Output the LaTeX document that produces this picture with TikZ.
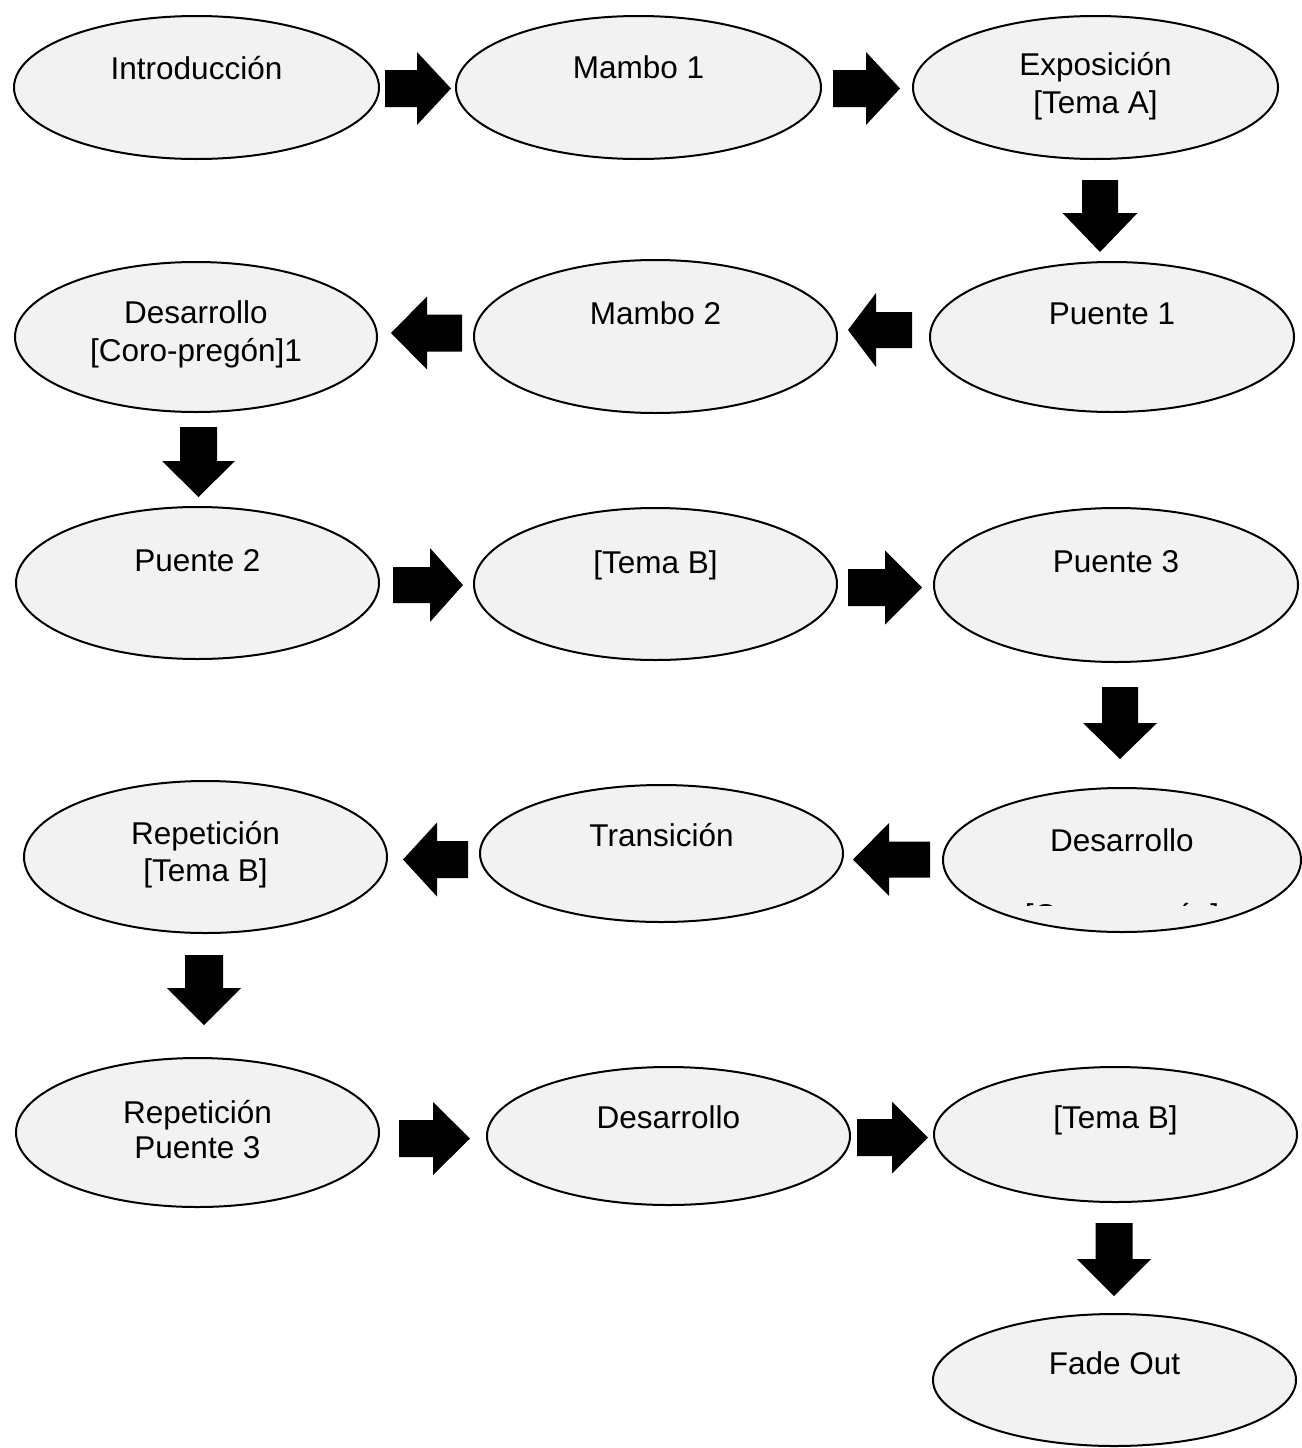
\documentclass[tikz,border=0pt]{standalone}
\usepackage{fontspec}
\setmainfont{Liberation Sans}
\usetikzlibrary{shapes.geometric,calc}
\definecolor{ovalfill}{HTML}{F2F2F2}
\newcommand{\blkarrow}[5]{%
  \coordinate (#1#2h) at ($(#2)!#5pt!(#1)$);
  \fill[barrow] ($(#1)!#3pt!90:(#2)$) -- ($(#1#2h)!#3pt!90:(#2)$) -- ($(#1#2h)!#4pt!90:(#2)$) -- (#2)
    -- ($(#1#2h)!#4pt!-90:(#2)$) -- ($(#1#2h)!#3pt!-90:(#2)$) -- ($(#1)!#3pt!-90:(#2)$) -- cycle;}
\begin{document}
\begin{tikzpicture}[x=1pt,y=-1pt,
  oval/.style={ellipse,draw=black,line width=2pt,fill=ovalfill,inner sep=0pt},
  lbl/.style={anchor=base,font=\fontsize{31.5}{38}\selectfont,text=black,inner sep=0pt},
  barrow/.style={fill=black}]
\useasboundingbox (0,0) rectangle (1301,1448);
\fill[white] (0,0) rectangle (1301,1448);

% ---- ovals ----
\node[oval,minimum width=365pt,minimum height=143pt] (intro) at (196.5,87.5) {};
\node[oval,minimum width=365pt,minimum height=143pt] (mambo1) at (638.5,87.5) {};
\node[oval,minimum width=365pt,minimum height=143pt] (expo) at (1095.5,87.5) {};
\node[oval,minimum width=362pt,minimum height=150pt] (des1) at (196,337) {};
\node[oval,minimum width=363pt,minimum height=153pt] (mambo2) at (655.5,336.5) {};
\node[oval,minimum width=364pt,minimum height=150pt] (puente1) at (1112,337) {};
\node[oval,minimum width=363pt,minimum height=152pt] (puente2) at (197.5,583) {};
\node[oval,minimum width=363pt,minimum height=152pt] (temab1) at (655.5,584) {};
\node[oval,minimum width=364pt,minimum height=154pt] (puente3) at (1116,585) {};
\node[oval,minimum width=363pt,minimum height=152pt] (rep1) at (205.5,857) {};
\node[oval,minimum width=363pt,minimum height=137pt] (trans) at (661.5,853.5) {};
\node[oval,minimum width=358pt,minimum height=144pt] (des2) at (1122,860) {};
\node[oval,minimum width=363pt,minimum height=149pt] (rep2) at (197.5,1132.5) {};
\node[oval,minimum width=363pt,minimum height=138pt] (des3) at (668.5,1136) {};
\node[oval,minimum width=363pt,minimum height=135pt] (temab2) at (1115.5,1134.5) {};
\node[oval,minimum width=363pt,minimum height=132pt] (fade) at (1114.5,1380) {};

% ---- labels ----
\node[lbl] (tintro) at (196.5,79) {Introducción};
\node[lbl] (tmambo1) at (638.5,78) {Mambo 1};
\node[lbl] (texpoa) at (1095.5,75) {Exposición};
\node[lbl] (texpob) at (1095.5,113) {[Tema A]};
\node[lbl] (tdes1a) at (196,323) {Desarrollo};
\node[lbl] (tdes1b) at (196,361) {[Coro-pregón]1};
\node[lbl] (tmambo2) at (655.5,324) {Mambo 2};
\node[lbl] (tpuente1) at (1112,324) {Puente 1};
\node[lbl] (tpuente2) at (197.5,571) {Puente 2};
\node[lbl] (ttemab1) at (655.5,573) {[Tema B]};
\node[lbl] (tpuente3) at (1116,572) {Puente 3};
\node[lbl] (trep1a) at (205.5,844) {Repetición};
\node[lbl] (trep1b) at (205.5,881) {[Tema B]};
\node[lbl] (ttrans) at (661.5,846) {Transición};
\node[lbl] (tdes2a) at (1122,851) {Desarrollo};
\begin{scope}
  \clip (930,780) rectangle (1301,905);
  \node[lbl] (tdes2b) at (1122,926) {[Coro-pregón]};
\end{scope}
\node[lbl] (trep2a) at (197.5,1123) {Repetición};
\node[lbl] (trep2b) at (197.5,1158) {Puente 3};
\node[lbl] (tdes3) at (668.5,1128) {Desarrollo};
\node[lbl] (ttemab2) at (1115.5,1128) {[Tema B]};
\node[lbl] (tfade) at (1114.5,1374) {Fade Out};

% ---- block arrows ----
\coordinate (a1t) at (385,88.5);   \coordinate (a1h) at (451,88.5);
\blkarrow{a1t}{a1h}{18.5}{36.5}{34}
\coordinate (a2t) at (833,88.5);   \coordinate (a2h) at (900,88.5);
\blkarrow{a2t}{a2h}{18.5}{36.5}{34}
\coordinate (d1t) at (1100,180);   \coordinate (d1h) at (1100,252);
\blkarrow{d1t}{d1h}{18}{37.5}{39}
\coordinate (a3t) at (912,330);    \coordinate (a3h) at (848,330);
\blkarrow{a3t}{a3h}{18}{37}{28}
\coordinate (a4t) at (462,333);    \coordinate (a4h) at (391,333);
\blkarrow{a4t}{a4h}{18.5}{36.5}{36}
\coordinate (d2t) at (198.5,427);  \coordinate (d2h) at (198.5,497);
\blkarrow{d2t}{d2h}{18.5}{36.5}{36}
\coordinate (a5t) at (393,585);    \coordinate (a5h) at (463,585);
\blkarrow{a5t}{a5h}{18}{37}{33}
\coordinate (a6t) at (848,587.5);  \coordinate (a6h) at (922,587.5);
\blkarrow{a6t}{a6h}{18.5}{37}{37}
\coordinate (d3t) at (1120,687);   \coordinate (d3h) at (1120,759);
\blkarrow{d3t}{d3h}{18}{37}{36}
\coordinate (a7t) at (930,859.5);  \coordinate (a7h) at (853,859.5);
\blkarrow{a7t}{a7h}{18}{36.5}{36}
\coordinate (a8t) at (468,859.5);  \coordinate (a8h) at (403,859.5);
\blkarrow{a8t}{a8h}{18.5}{37}{34}
\coordinate (d4t) at (204,955);    \coordinate (d4h) at (204,1025);
\blkarrow{d4t}{d4h}{19}{37}{37}
\coordinate (a9t) at (399,1138.5); \coordinate (a9h) at (470,1138.5);
\blkarrow{a9t}{a9h}{18.5}{36.5}{37}
\coordinate (a10t) at (857,1137.5); \coordinate (a10h) at (928,1137.5);
\blkarrow{a10t}{a10h}{18.5}{36}{36}
\coordinate (d5t) at (1114,1223);  \coordinate (d5h) at (1114,1296);
\blkarrow{d5t}{d5h}{18.5}{37}{37}
\end{tikzpicture}
\end{document}
